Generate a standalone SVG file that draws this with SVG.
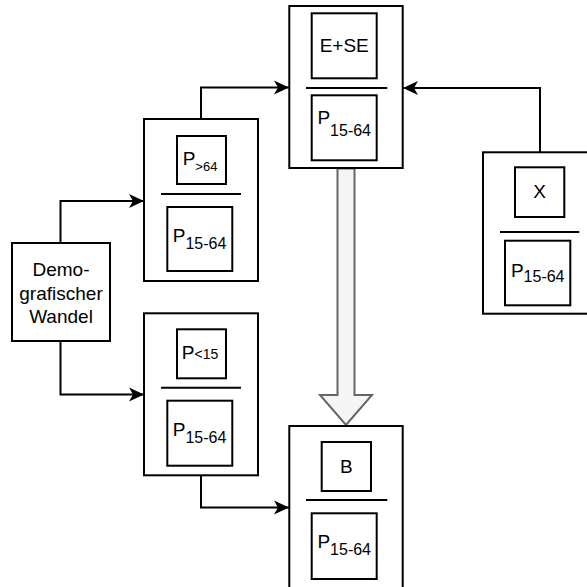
<svg xmlns="http://www.w3.org/2000/svg" width="587" height="587" viewBox="0 0 587 587">
<defs>
<style>
.box{fill:#fff;stroke:#000;stroke-width:2}
.div{stroke:#000;stroke-width:2}
.con{fill:none;stroke:#000;stroke-width:2}
.t{font-family:"Liberation Sans",Arial,sans-serif;font-size:19px;fill:#000;text-anchor:middle}
.s{font-size:16px}
</style>
<marker id="arr" markerUnits="userSpaceOnUse" markerWidth="16" markerHeight="16" refX="15" refY="8" orient="auto" viewBox="0 0 16 16">
<path d="M0,1 L15,8 L0,15 L4,8 Z" fill="#000"/>
</marker>
</defs>
<rect width="587" height="587" fill="#fff"/>

<g id="connectors">
<path class="con" d="M60.5,243 V201 H144" marker-end="url(#arr)"/>
<path class="con" d="M60.5,341 V394.5 H144" marker-end="url(#arr)"/>
<path class="con" d="M201,119 V87.5 H289" marker-end="url(#arr)"/>
<path class="con" d="M540,152 V88 H403" marker-end="url(#arr)"/>
<path class="con" d="M201,475 V507.5 H289" marker-end="url(#arr)"/>
<path d="M337.5,168.5 V395 H320 L346,425 L372,395 H354.5 V168.5 Z" fill="#f5f5f5" stroke="#666" stroke-width="2"/>
</g>

<g id="demografischer-wandel">
<rect class="box" x="12" y="243" width="98" height="98"/>
<text class="t" x="61" y="276">Demo-</text>
<text class="t" x="61" y="299.7">grafischer</text>
<text class="t" x="61" y="323.3">Wandel</text>
</g>

<g id="p-gt-64">
<rect class="box" x="144" y="119" width="114" height="162"/>
<rect class="box" x="177" y="136" width="49" height="48"/>
<text class="t" x="200" y="165">P<tspan font-size="13" dy="6">&gt;64</tspan></text>
<line class="div" x1="161" y1="194" x2="241" y2="194"/>
<rect class="box" x="167.3" y="207" width="65" height="64"/>
<text class="t" x="199.5" y="242.3">P<tspan class="s" dy="6.7">15-64</tspan></text>
</g>

<g id="p-lt-15">
<rect class="box" x="144" y="313.3" width="114" height="162"/>
<rect class="box" x="177" y="329.3" width="49" height="49"/>
<text class="t" x="200" y="359.3">P<tspan font-size="14">&lt;15</tspan></text>
<line class="div" x1="161" y1="387.7" x2="241" y2="387.7"/>
<rect class="box" x="167.3" y="400.7" width="65" height="65"/>
<text class="t" x="199.5" y="436">P<tspan class="s" dy="6.7">15-64</tspan></text>
</g>

<g id="e-se">
<rect class="box" x="289.3" y="6" width="113.4" height="162"/>
<rect class="box" x="311.7" y="13.3" width="65" height="65"/>
<text class="t" x="344.2" y="51.7">E+SE</text>
<line class="div" x1="306" y1="88" x2="387.3" y2="88"/>
<rect class="box" x="311.7" y="95.3" width="65" height="65"/>
<text class="t" x="344.2" y="124">P<tspan class="s" dy="12">15-64</tspan></text>
</g>

<g id="x">
<rect class="box" x="483" y="152.3" width="114" height="161.4"/>
<rect class="box" x="515" y="167.3" width="49.3" height="49.7"/>
<text class="t" x="539.7" y="198.3">X</text>
<line class="div" x1="500" y1="232" x2="579.3" y2="232"/>
<rect class="box" x="505" y="240.7" width="65.3" height="64.6"/>
<text class="t" x="537.7" y="276.7">P<tspan class="s" dy="5">15-64</tspan></text>
</g>

<g id="b">
<rect class="box" x="289.3" y="426" width="113.4" height="170"/>
<rect class="box" x="321.7" y="442" width="49.3" height="49"/>
<text class="t" x="346.3" y="473.3">B</text>
<line class="div" x1="306" y1="500" x2="387.3" y2="500"/>
<rect class="box" x="311.7" y="513.3" width="65" height="65.7"/>
<text class="t" x="344.2" y="548.3">P<tspan class="s" dy="6.7">15-64</tspan></text>
</g>
</svg>
